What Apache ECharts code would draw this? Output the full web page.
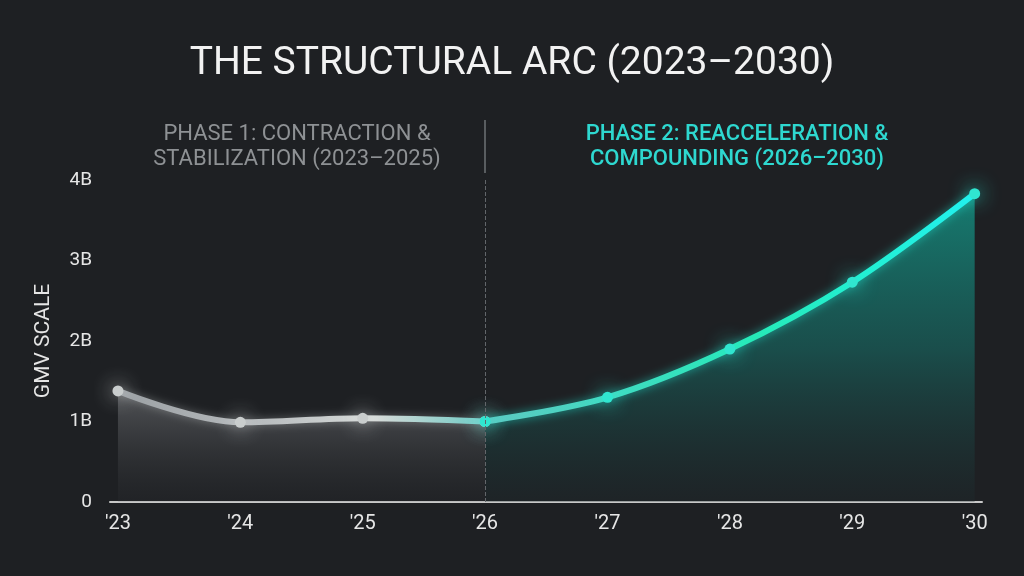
<!DOCTYPE html>
<html>
<head>
<meta charset="utf-8">
<script src="https://cdn.jsdelivr.net/npm/echarts@6/dist/echarts.min.js"></script>
<style>
html,body{margin:0;padding:0;background:#1e2023;}
#c{width:1024px;height:576px;}
</style>
</head>
<body>
<div id="c"></div>
<script>
var years = ["'23","'24","'25","'26","'27","'28","'29","'30"];
var gmv = [1.38, 0.99, 1.04, 1.00, 1.30, 1.90, 2.73, 3.83];
var yTicks = ['0','1B','2B','3B','4B'];
var splitIndex = 3;

var phase1Data = gmv.map(function(v,i){ return [i, i <= splitIndex ? v : null]; });
var phase2Data = gmv.map(function(v,i){ return [i, i >= splitIndex ? v : null]; });

var FONT = 'Roboto, "Noto Sans", sans-serif';
var chart = echarts.init(document.getElementById('c'));
chart.setOption({
  backgroundColor: '#1e2023',
  title: {
    text: 'THE STRUCTURAL ARC (2023\u20132030)',
    left: 'center', top: 40,
    textStyle: { color: '#f2f2f2', fontSize: 39, fontWeight: 'normal', fontFamily: FONT }
  },
  grid: { left: 110, right: 42, top: 180, bottom: 74 },
  xAxis: {
    type: 'value', min: -0.065, max: 7.06, splitNumber: 7, minInterval: 1, maxInterval: 1,
    axisLine: { show: true, lineStyle: { color: '#c8c8c8', width: 2 } },
    axisTick: { show: false },
    splitLine: { show: false },
    axisLabel: {
      color: '#e6e6e6', fontSize: 20, fontFamily: FONT, margin: 12,
      formatter: function(v){ return (Math.abs(v - Math.round(v)) < 1e-6 && years[Math.round(v)]) ? years[Math.round(v)] : ''; }
    }
  },
  yAxis: {
    type: 'value', min: 0, max: 4, interval: 1,
    name: 'GMV SCALE', nameLocation: 'middle', nameRotate: 90, nameGap: 56,
    nameTextStyle: { color: '#e6e6e6', fontSize: 21, fontFamily: FONT },
    axisLine: { show: false }, axisTick: { show: false }, splitLine: { show: false },
    axisLabel: { color: '#e6e6e6', fontSize: 19, fontFamily: FONT, margin: 18,
      formatter: function(v){ return yTicks[Math.round(v)]; } }
  },
  graphic: [
    { type: 'text', x: 297, y: 122, style: {
        text: 'PHASE 1: CONTRACTION &\nSTABILIZATION (2023\u20132025)', textAlign: 'center', textVerticalAlign: 'top',
        fill: '#8e9194', fontSize: 22, lineHeight: 25, fontFamily: FONT } },
    { type: 'text', x: 737, y: 122, style: {
        text: 'PHASE 2: REACCELERATION &\nCOMPOUNDING (2026\u20132030)', textAlign: 'center', textVerticalAlign: 'top',
        fill: '#2ed8d0', fontSize: 22, fontWeight: 500, lineHeight: 25, fontFamily: FONT } },
    { type: 'line', shape: { x1: 485, y1: 120, x2: 485, y2: 173 },
      style: { stroke: '#6e7276', lineWidth: 1.5 } }
  ],
  series: [
    {
      type: 'line', data: phase1Data, smooth: 0.35, connectNulls: false,
      symbol: 'circle', symbolSize: 11, z: 3,
      lineStyle: { width: 6,
        color: new echarts.graphic.LinearGradient(0,0,1,0,[
          {offset:0,color:'#9a9fa3'},{offset:0.4,color:'#b9bdbf'},{offset:0.7,color:'#d6dad8'},{offset:1,color:'#6ccac4'}]),
        shadowBlur: 8, shadowColor: 'rgba(220,225,225,0.35)' },
      itemStyle: { color: '#c9cdcd', shadowBlur: 20, shadowColor: 'rgba(235,240,240,0.95)' },
      areaStyle: { color: new echarts.graphic.LinearGradient(0,0,0,1,[
          {offset:0,color:'rgba(155,157,161,0.6)'},{offset:1,color:'rgba(60,62,66,0.15)'}]) },
      markLine: { symbol: 'none', silent: true, label: { show: false },
        lineStyle: { color: '#62666a', type: 'dashed', width: 1 },
        data: [{ xAxis: splitIndex }] }
    },
    {
      type: 'line', data: phase2Data, smooth: 0.35, connectNulls: false,
      symbol: 'circle', symbolSize: 11, z: 4,
      lineStyle: { width: 6,
        color: new echarts.graphic.LinearGradient(0,0,1,0,[
          {offset:0,color:'#5ec8c2'},{offset:0.3,color:'#3ddcc0'},{offset:0.55,color:'#26eab8'},{offset:0.8,color:'#22f0d6'},{offset:1,color:'#22f0f0'}]),
        shadowBlur: 10, shadowColor: 'rgba(30,240,220,0.55)' },
      itemStyle: { color: '#30e6d0', shadowBlur: 20, shadowColor: 'rgba(40,245,225,1)' },
      areaStyle: { color: new echarts.graphic.LinearGradient(0,0,0,1,[
          {offset:0,color:'rgba(18,170,152,0.95)'},{offset:0.5,color:'rgba(22,120,112,0.75)'},{offset:1,color:'rgba(30,45,48,0.4)'}]) }
    }
  ]
});
</script>
</body>
</html>
